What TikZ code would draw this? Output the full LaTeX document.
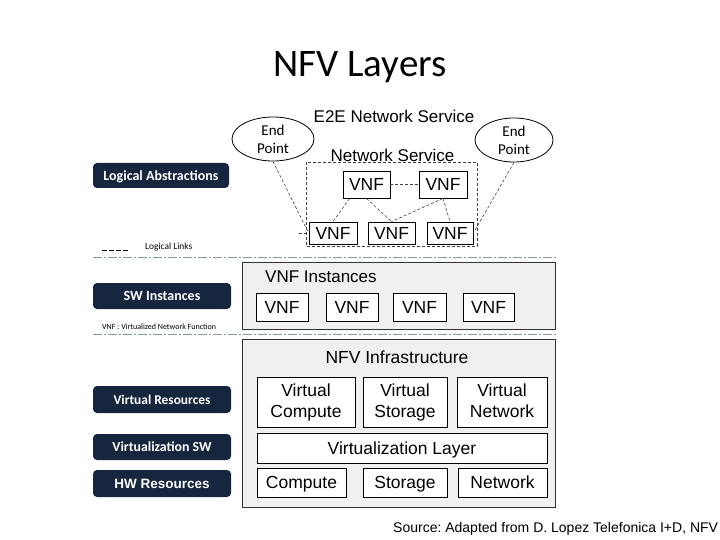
\documentclass[tikz,border=0pt]{standalone}
\usepackage{fontspec}
\setmainfont{Liberation Sans}
\newfontfamily\carl{Carlito}
\usetikzlibrary{shapes.geometric,calc}
\definecolor{navy}{HTML}{17263F}
\definecolor{panel}{HTML}{F0F0F0}
\definecolor{sepgray}{HTML}{8A96A3}
\definecolor{linkgray}{HTML}{404040}
\tikzset{
  fs/.style={font=\fontsize{#1}{21}\selectfont},
  vbox/.style={draw=black, line width=0.8pt, fill=white, inner sep=0pt, align=center,
    font=\fontsize{17.5}{21}\selectfont},
  onel/.style={text height=13.9pt, text depth=1.6pt},
  panelbox/.style={draw=black!80, line width=0.8pt, fill=panel, inner sep=0pt},
  tag/.style={fill=navy, rounded corners=4pt, inner sep=0pt, text=white,
    minimum width=138pt, text height=9.8pt, text depth=0.6pt},
  endpt/.style={draw=black, line width=0.8pt, ellipse, inner sep=0pt, align=center,
    font=\carl\fontsize{15}{18}\selectfont},
  link/.style={draw=linkgray, line width=0.6pt, dash pattern=on 3pt off 2pt},
  sepline/.style={draw=sepgray, line width=0.8pt, dash pattern=on 9pt off 2pt on 2pt off 2pt},
  plain/.style={inner sep=0pt}
}
\begin{document}
\begin{tikzpicture}[x=1pt,y=-1pt]
\useasboundingbox (0,0) rectangle (720,540);
% title
\node[plain, font=\carl\fontsize{39}{44}\selectfont] (title) at (360,67) {NFV Layers};
% logical abstractions part
\node[plain, fs=17] (e2e) at (394,116) {E2E Network Service};
\node[plain, fs=17] (nstxt) at (392.5,155) {Network Service};
\draw[draw=black!75, line width=0.7pt, dash pattern=on 3pt off 2pt] (306,162) rectangle (477,246);
\node[endpt, minimum width=82pt, minimum height=44pt] (ep1) at (273,139) {End\\Point};
\node[endpt, minimum width=78pt, minimum height=44pt] (ep2) at (514,140) {End\\Point};
\node[vbox, onel, minimum width=47pt, minimum height=27pt] (v1) at (366.5,184.5) {VNF};
\node[vbox, onel, minimum width=48pt, minimum height=27pt] (v2) at (443,184.5) {VNF};
\node[vbox, onel, minimum width=48pt, minimum height=22pt] (v3) at (333,233) {VNF};
\node[vbox, onel, minimum width=47pt, minimum height=22pt] (v4) at (391.5,233) {VNF};
\node[vbox, onel, minimum width=46pt, minimum height=22pt] (v5) at (450,233) {VNF};
\coordinate (stub) at (299,233);
\draw[link] (v1.east) -- (v2.west);
\draw[link] ([xshift=7pt]v1.south west) -- (v3.north);
\draw[link] (v1.south) -- (v4.north);
\draw[link] (v2.south) -- (v4.north);
\draw[link] (v2.south) -- (v5.north);
\draw[link] (ep1.south) -- (v3.west);
\draw[link] (stub) -- (v3.west);
\draw[link] (ep2.south) -- (v5.east);
% left tags
\node[tag, minimum width=136pt, minimum height=25pt, font=\carl\bfseries\fontsize{14}{16}\selectfont] (la) at (161,175.5) {Logical Abstractions};
\node[tag, minimum height=26pt, font=\carl\bfseries\fontsize{14}{16}\selectfont] (sw) at (162,296) {SW Instances};
\node[tag, minimum height=27pt, font=\carl\bfseries\fontsize{13.4}{16}\selectfont] (vr) at (162,399.5) {Virtual Resources};
\node[tag, minimum height=26pt, font=\carl\bfseries\fontsize{13.8}{16}\selectfont] (vs) at (162,447) {Virtualization SW};
\node[tag, minimum height=27pt, font=\bfseries\fontsize{13.5}{16}\selectfont] (hw) at (162,483.5) {HW Resources};
% legend
\coordinate (lg1) at (102,250);
\coordinate (lg2) at (128,250);
\draw[draw=black, line width=0.7pt, dash pattern=on 5pt off 2pt] (lg1) -- (lg2);
\node[plain, anchor=west, font=\carl\fontsize{9.4}{11}\selectfont] (lgtxt) at (145,247) {Logical Links};
\node[plain, anchor=west, font=\carl\fontsize{8}{10}\selectfont] (abbr) at (102,327) {VNF : Virtualized Network Function};
% separators
\coordinate (s1a) at (93,257);
\coordinate (s1b) at (556,257);
\coordinate (s2a) at (93,334);
\coordinate (s2b) at (556,334);
\draw[sepline] (s1a) -- (s1b);
\draw[sepline] (s2a) -- (s2b);
% VNF instances
\node[panelbox, minimum width=313pt, minimum height=67pt] (vi) at (398.5,295.5) {};
\node[plain, anchor=west, fs=17] (vitxt) at (265,277) {VNF Instances};
\node[vbox, onel, minimum width=52pt, minimum height=28pt] (i1) at (282,307) {VNF};
\node[vbox, onel, minimum width=52pt, minimum height=28pt] (i2) at (352,307) {VNF};
\node[vbox, onel, minimum width=53pt, minimum height=28pt] (i3) at (419.5,307) {VNF};
\node[vbox, onel, minimum width=51pt, minimum height=28pt] (i4) at (488.5,307) {VNF};
% NFV infrastructure
\node[panelbox, minimum width=313pt, minimum height=168pt] (nfvi) at (398.5,423) {};
\node[plain, fs=17.5] (nfvitxt) at (397,357) {NFV Infrastructure};
\node[vbox, minimum width=98pt, minimum height=50pt] (vc) at (306,402.5) {Virtual\\Compute};
\node[vbox, minimum width=84pt, minimum height=50pt] (vst) at (405,402.5) {Virtual\\Storage};
\node[vbox, minimum width=90pt, minimum height=50pt] (vn) at (502,402.5) {Virtual\\Network\vphantom{p}};
\node[vbox, onel, minimum width=290pt, minimum height=30pt] (vl) at (402,448) {Virtualization Layer};
\node[vbox, onel, minimum width=89pt, minimum height=29pt] (hc) at (301.5,482.5) {Compute};
\node[vbox, onel, minimum width=84pt, minimum height=29pt] (hs) at (405,482.5) {Storage};
\node[vbox, onel, minimum width=89pt, minimum height=29pt] (hn) at (502.5,482.5) {Network};
% source
\node[plain, anchor=base west, fs=14] (src) at (393,532) {\frenchspacing Source: Adapted from D. Lopez Telefonica I+D, NFV};
\end{tikzpicture}
\end{document}
